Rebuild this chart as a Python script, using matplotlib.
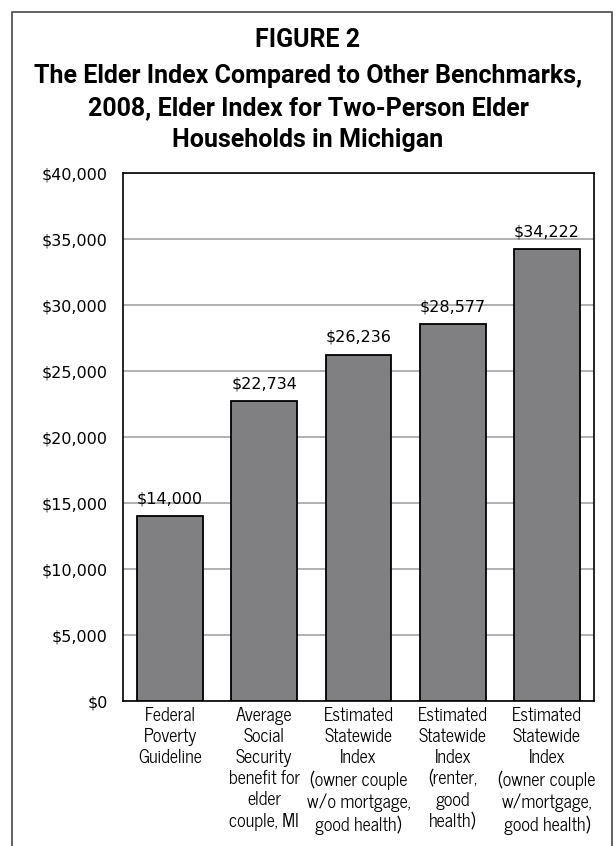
import numpy as np
import matplotlib.pyplot as plt
from matplotlib.lines import Line2D

categories = ['Federal\nPoverty\nGuideline',
              'Average\nSocial\nSecurity\nbenefit for\nelder\ncouple, MI',
              'Estimated\nStatewide\nIndex\n(owner couple\nw/o mortgage,\ngood health)',
              'Estimated\nStatewide\nIndex\n(renter,\ngood\nhealth)',
              'Estimated\nStatewide\nIndex\n(owner couple\nw/mortgage,\ngood health)']
values = [14000, 22734, 26236, 28577, 34222]
yticks = [0, 5000, 10000, 15000, 20000, 25000, 30000, 35000, 40000]

narrow = ['News Cycle', 'DejaVu Sans']
title_fam = ['Roboto', 'DejaVu Sans']

fig = plt.figure(figsize=(6.16, 8.46), dpi=100)
ax = fig.add_axes([123/616, 1-701/846, 471/616, 528/846])

x = np.arange(len(values))
ax.bar(x, values, width=0.70, color='#808083', edgecolor='black', linewidth=1.3, zorder=3)
ax.set_xlim(-0.5, len(values) - 0.5)
ax.set_ylim(0, 40000)
ax.set_yticks(yticks)
ax.set_yticklabels(['$' + format(v, ',') for v in yticks], fontsize=11.5, family='DejaVu Sans')
ax.yaxis.grid(True, color='#b0b0b0', linewidth=1.4, zorder=0)
ax.tick_params(axis='y', length=0, pad=11)
ax.tick_params(axis='x', length=0, pad=4)
ax.set_xticks(x)
ax.set_xticklabels(categories, fontsize=13, family=narrow, linespacing=1.23, va='top')
for s in ax.spines.values():
    s.set_linewidth(1.2)

for xi, v in zip(x, values):
    ax.annotate('$' + format(v, ','), (xi, v), xytext=(0, 7), textcoords='offset points',
                ha='center', va='bottom', fontsize=11.5, family='DejaVu Sans')

title_font = dict(family=title_fam, fontsize=18, fontweight='bold', ha='center', va='center')
fig.text(0.5, 1-40/846, 'FIGURE 2', **title_font)
fig.text(0.5, 1-76/846, 'The Elder Index Compared to Other Benchmarks,', **title_font)
fig.text(0.5, 1-108/846, '2008, Elder Index for Two-Person Elder', **title_font)
fig.text(0.5, 1-140/846, 'Households in Michigan', **title_font)

# outer frame, open at the bottom
fx0, fx1, fy1 = 12/616, 612/616, 1-12/846
fig.add_artist(Line2D([fx0, fx0, fx1, fx1], [0, fy1, fy1, 0], color='#555555', linewidth=1.3))

plt.savefig('out.png', dpi=100)
